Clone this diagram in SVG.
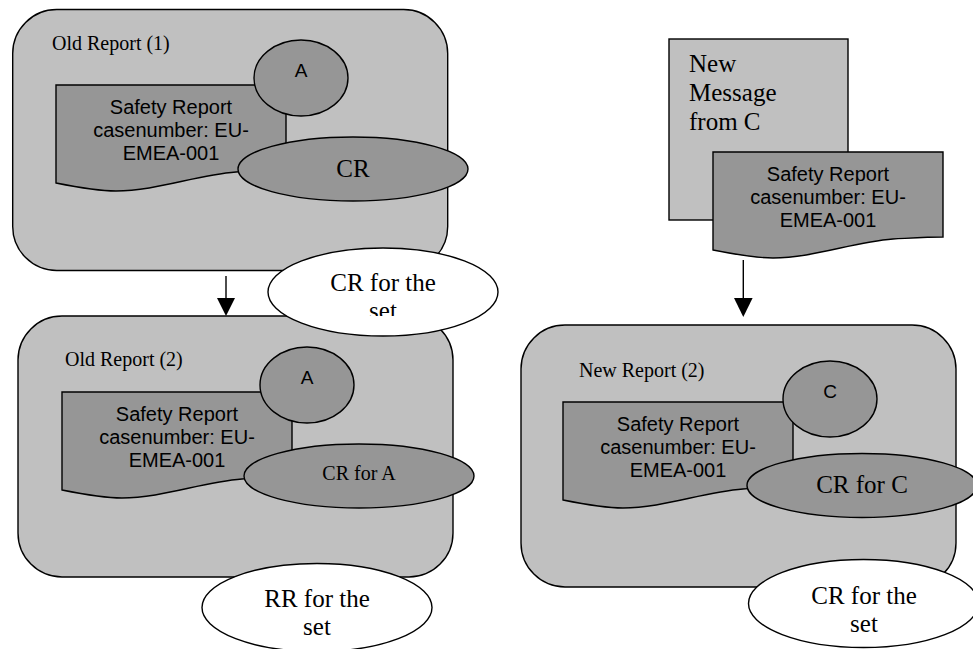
<svg xmlns="http://www.w3.org/2000/svg" width="973" height="649" viewBox="0 0 973 649">
  <style>
    .box { fill: #c0c0c0; stroke: #000; stroke-width: 1.4; }
    .doc { fill: #969696; stroke: #000; stroke-width: 1.4; }
    .tag { fill: #969696; stroke: #000; stroke-width: 1.4; }
    .note { fill: #fff; stroke: #000; stroke-width: 1.4; }
    .serif { font-family: "Liberation Serif", "Times New Roman", serif; fill: #000; }
    .sans { font-family: "Liberation Sans", Arial, sans-serif; fill: #000; }
    .title { font-size: 20px; }
    .doctext { font-size: 20px; text-anchor: middle; }
    .letter { font-size: 19px; text-anchor: middle; }
    .big { font-size: 25px; text-anchor: middle; }
    .mid { font-size: 20px; text-anchor: middle; }
    .edge { stroke: #000; stroke-width: 1.4; fill: none; }
    .head { fill: #000; }
  </style>
  <defs>
    <!-- flowchart "document" outline, wavy bottom edge -->
    <path id="docShape" d="M0,0 H230 V85 C215,85 200,86 180,87 C140,90 100,106 60,106 C40,106 20,102 0,98 Z"/>
    <clipPath id="setClip">
      <rect x="260" y="240" width="250" height="76"/>
    </clipPath>
  </defs>

  <!-- Old Report (1) -->
  <g id="old-report-1">
    <rect class="box" x="12.7" y="9.5" width="435" height="261" rx="44" ry="44"/>
    <text class="serif title" x="52" y="50">Old Report (1)</text>
    <use href="#docShape" class="doc" x="56" y="85"/>
    <text class="sans doctext" x="171" y="114">Safety Report</text>
    <text class="sans doctext" x="171" y="137">casenumber: EU-</text>
    <text class="sans doctext" x="171" y="160">EMEA-001</text>
    <ellipse class="tag" cx="301" cy="78" rx="47" ry="38"/>
    <text class="sans letter" x="301" y="77">A</text>
    <ellipse class="tag" cx="353" cy="169" rx="115" ry="32"/>
    <text class="serif big" x="353" y="177">CR</text>
  </g>

  <!-- Old Report (2) -->
  <g id="old-report-2">
    <rect class="box" x="18" y="316" width="435" height="261" rx="44" ry="44"/>
    <text class="serif title" x="65" y="366">Old Report (2)</text>
    <use href="#docShape" class="doc" x="62" y="392"/>
    <text class="sans doctext" x="177" y="421">Safety Report</text>
    <text class="sans doctext" x="177" y="444">casenumber: EU-</text>
    <text class="sans doctext" x="177" y="467">EMEA-001</text>
    <ellipse class="tag" cx="307" cy="385" rx="47" ry="38"/>
    <text class="sans letter" x="307" y="384">A</text>
    <ellipse class="tag" cx="359" cy="476" rx="115" ry="32"/>
    <text class="serif mid" x="359" y="480">CR for A</text>
  </g>

  <!-- New Message from C -->
  <g id="new-message">
    <rect class="box" x="669" y="39" width="179" height="181"/>
    <text class="serif" font-size="25" x="689" y="72">New</text>
    <text class="serif" font-size="25" x="689" y="101">Message</text>
    <text class="serif" font-size="25" x="689" y="130">from C</text>
    <use href="#docShape" class="doc" x="713" y="152"/>
    <text class="sans doctext" x="828" y="181">Safety Report</text>
    <text class="sans doctext" x="828" y="204">casenumber: EU-</text>
    <text class="sans doctext" x="828" y="227">EMEA-001</text>
  </g>

  <!-- New Report (2) -->
  <g id="new-report-2">
    <rect class="box" x="521" y="325" width="435" height="262" rx="44" ry="44"/>
    <text class="serif title" x="579" y="377">New Report (2)</text>
    <use href="#docShape" class="doc" x="563" y="402"/>
    <text class="sans doctext" x="678" y="431">Safety Report</text>
    <text class="sans doctext" x="678" y="454">casenumber: EU-</text>
    <text class="sans doctext" x="678" y="477">EMEA-001</text>
    <ellipse class="tag" cx="830" cy="399" rx="47" ry="38"/>
    <text class="sans letter" x="830" y="398">C</text>
    <ellipse class="tag" cx="862" cy="485.5" rx="115" ry="32"/>
    <text class="serif big" x="862" y="493">CR for C</text>
  </g>

  <!-- connectors -->
  <g id="connectors">
    <line class="edge" x1="226" y1="276" x2="226" y2="300"/>
    <polygon class="head" points="217,298 235,298 226,316"/>
    <line class="edge" x1="743.3" y1="260" x2="743.3" y2="300"/>
    <polygon class="head" points="734,298 752.6,298 743.3,317"/>
  </g>

  <!-- set-level notes -->
  <g id="cr-set-old">
    <ellipse class="note" cx="383" cy="292" rx="115" ry="44"/>
    <g clip-path="url(#setClip)">
      <text class="serif big" x="383" y="291">CR for the</text>
      <text class="serif big" x="383" y="319">set</text>
    </g>
  </g>
  <g id="rr-set-old">
    <ellipse class="note" cx="317" cy="607.5" rx="115" ry="44"/>
    <text class="serif big" x="317" y="607">RR for the</text>
    <text class="serif big" x="317" y="634.5">set</text>
  </g>
  <g id="cr-set-new">
    <ellipse class="note" cx="863.5" cy="603.5" rx="115" ry="44"/>
    <text class="serif big" x="864" y="603.5">CR for the</text>
    <text class="serif big" x="864" y="631.5">set</text>
  </g>
</svg>
